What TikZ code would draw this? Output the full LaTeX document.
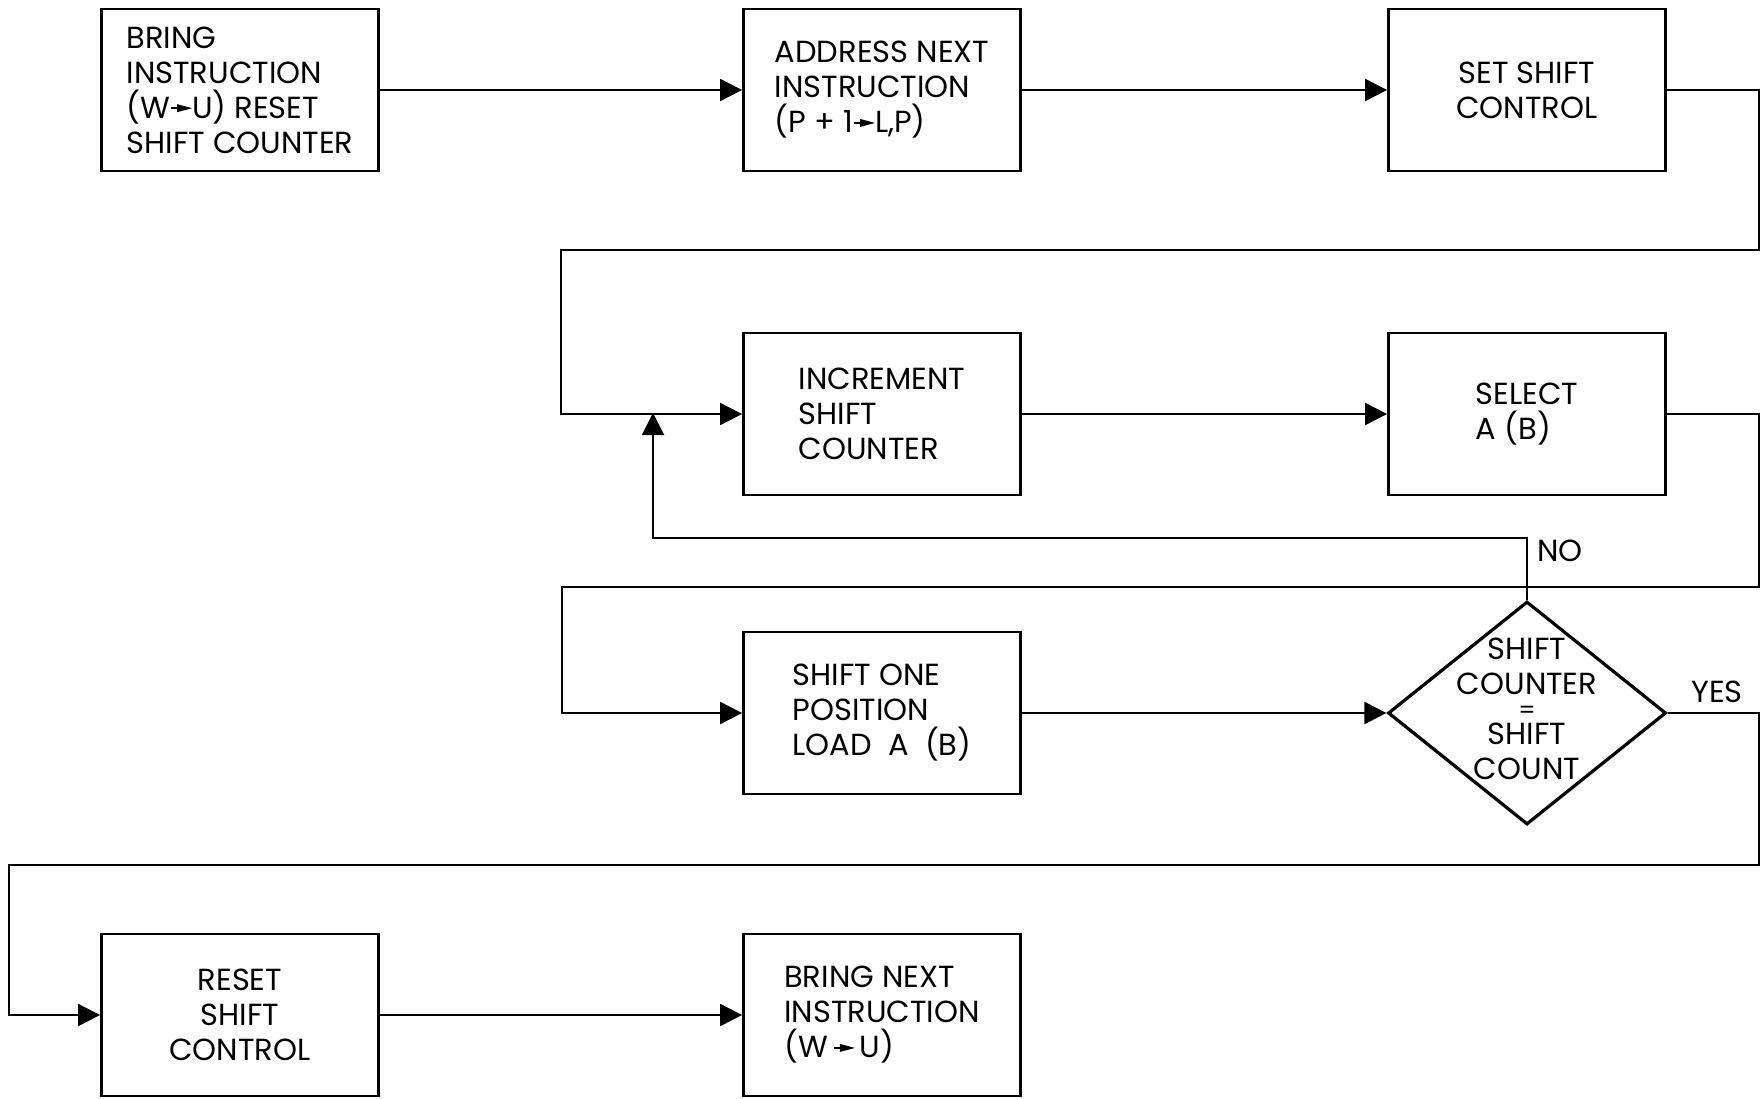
\documentclass[tikz,border=0pt]{standalone}
\usepackage{fontspec}
\setmainfont{Poppins}
\usetikzlibrary{shapes.geometric,arrows.meta}
\newcommand\flowfont{\fontsize{30.5pt}{35pt}\selectfont}
\newcommand\smallarr{\tikz[x=1pt,y=1pt,baseline=0pt]{\draw[line width=1.8pt] (0,10) -- (9,10); \fill (6,6) -- (21,10) -- (6,14) -- cycle;}}
\begin{document}
\begin{tikzpicture}[x=1pt,y=-1pt,
  box/.style={draw,line width=2.8pt,minimum width=277pt,minimum height=162pt,inner sep=0pt,font=\flowfont,align=left},
  cbox/.style={box,align=center},
  decision/.style={draw,diamond,line width=3.2pt,minimum width=278pt,minimum height=223pt,inner sep=0pt},
  lbl/.style={font=\flowfont,inner sep=0pt},
  arr/.style={line width=2pt,-{Triangle[length=22pt,width=22pt]}},
  conn/.style={line width=2pt}]
\useasboundingbox (0,0) rectangle (1763,1098);
% boxes
\node[box]  (b1) at (240,90)  {BRING\\INSTRUCTION\\(W\smallarr U) RESET\\SHIFT COUNTER};
\node[box]  (b2) at (882,90)  {ADDRESS NEXT\\INSTRUCTION\\(P + 1\smallarr L,P)};
\node[cbox] (b3) at (1527,90) {SET SHIFT\\CONTROL};
\node[box]  (b4) at (882,414) {INCREMENT\\SHIFT\\COUNTER};
\node[box]  (b5) at (1527,414) {SELECT\\A (B)};
\node[box]  (b6) at (882,713) {SHIFT ONE\\POSITION\\LOAD\ \ A\ \ (B)};
\node[decision] (dec) at (1527,713) {};
\node[lbl,align=center] (dect) at (1527,709) {SHIFT\\COUNTER\\[-11pt]{\fontsize{24pt}{12pt}\selectfont =}\\[-9pt]SHIFT\\COUNT};
\node[cbox] (b7) at (240,1015) {RESET\\SHIFT\\CONTROL};
\node[box]  (b8) at (882,1015) {BRING NEXT\\INSTRUCTION\\(W\,\smallarr\,U)};
% labels
\node[lbl,anchor=west] (no) at (1537,551) {NO};
\node[lbl] (yes) at (1717,692) {YES};
% corner coordinates
\coordinate (k1) at (1759,250);
\coordinate (k2) at (561,250);
\coordinate (k3) at (1759,587);
\coordinate (k4) at (562,587);
\coordinate (k5) at (1527,538);
\coordinate (k6) at (653,413);
\coordinate (k7) at (1759,865);
\coordinate (k8) at (9,865);
% connectors
\draw[arr] (b1) -- (b2);
\draw[arr] (b2) -- (b3);
\draw[arr] (b3.east) -| (k1) -- (k2) |- (b4.west);
\draw[arr] (b4) -- (b5);
\draw[arr] (b5.east) -| (k3) -- (k4) |- (b6.west);
\draw[arr] (b6) -- (dec.west);
\draw[arr] (dec.north) -- (k5) -| (k6);
\draw[arr] (dec.east) -| (k7) -- (k8) |- (b7.west);
\draw[arr] (b7) -- (b8);
\end{tikzpicture}
\end{document}
